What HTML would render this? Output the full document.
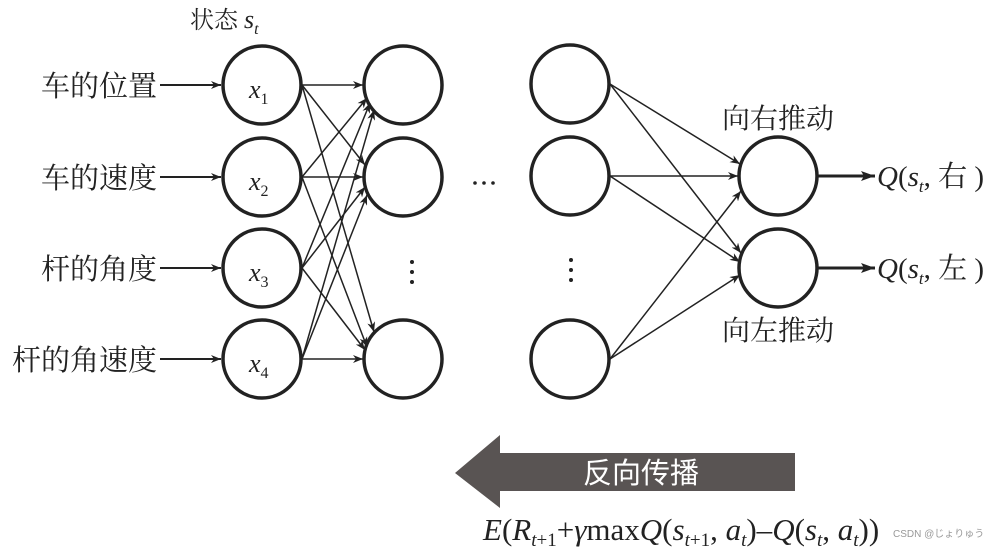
<!DOCTYPE html>
<html><head><meta charset="utf-8"><style>
html,body{margin:0;padding:0;background:#fff;}
svg{display:block;}
.cj{font-family:"Liberation Serif","Noto Serif CJK SC",serif;fill:#222;}
.m{font-family:"Liberation Serif","Noto Serif CJK SC",serif;font-style:italic;fill:#222;}
</style></head><body>
<svg width="999" height="550" viewBox="0 0 999 550" xmlns="http://www.w3.org/2000/svg">
<defs>
<marker id="a" markerWidth="10" markerHeight="8" refX="10" refY="4" orient="auto" markerUnits="userSpaceOnUse">
<path d="M0,0 L10,4 L0,8 L3,4 Z" fill="#222"/></marker>
<marker id="b" markerWidth="14" markerHeight="10" refX="14" refY="5" orient="auto" markerUnits="userSpaceOnUse">
<path d="M0,0 L14,5 L0,10 L3,5 Z" fill="#222"/></marker>
</defs>
<g class="cj" font-size="29">
<text x="157" y="96" text-anchor="end">车的位置</text>
<text x="157" y="188" text-anchor="end">车的速度</text>
<text x="157" y="279" text-anchor="end">杆的角度</text>
<text x="157" y="370" text-anchor="end">杆的角速度</text>
<text x="722" y="128" font-size="28">向右推动</text>
<text x="722" y="340" font-size="28">向左推动</text>
</g>
<text class="cj" x="190" y="28" font-size="24">状态 <tspan class="m" font-size="26">s</tspan><tspan class="m" font-size="16" dy="6">t</tspan></text>
<g stroke="#222" stroke-width="2" fill="none">
<line x1="160" y1="85" x2="221" y2="85" marker-end="url(#a)"/>
<line x1="160" y1="177" x2="221" y2="177" marker-end="url(#a)"/>
<line x1="160" y1="268" x2="221" y2="268" marker-end="url(#a)"/>
<line x1="160" y1="359" x2="221" y2="359" marker-end="url(#a)"/>
</g>
<g stroke="#222" stroke-width="1.5" fill="none" marker-end="url(#a)">
<line x1="302" y1="85" x2="363" y2="85"/>
<line x1="302" y1="85" x2="365" y2="165"/>
<line x1="302" y1="85" x2="374" y2="332"/>
<line x1="302" y1="177" x2="367" y2="98"/>
<line x1="302" y1="177" x2="363" y2="177"/>
<line x1="302" y1="177" x2="367" y2="347"/>
<line x1="302" y1="268" x2="370" y2="103"/>
<line x1="302" y1="268" x2="365" y2="187"/>
<line x1="302" y1="268" x2="365" y2="350"/>
<line x1="302" y1="359" x2="374" y2="110"/>
<line x1="302" y1="359" x2="367" y2="195"/>
<line x1="302" y1="359" x2="363" y2="359"/>
<line x1="610" y1="84" x2="740" y2="164"/>
<line x1="610" y1="84" x2="741" y2="253"/>
<line x1="610" y1="176" x2="738" y2="176"/>
<line x1="610" y1="176" x2="740" y2="262"/>
<line x1="610" y1="359" x2="741" y2="191"/>
<line x1="610" y1="359" x2="740" y2="275"/>
</g>
<g stroke="#222" stroke-width="3.5" fill="none">
<circle cx="262" cy="85" r="39"/><circle cx="262" cy="177" r="39"/>
<circle cx="262" cy="268" r="39"/><circle cx="262" cy="359" r="39"/>
<circle cx="403" cy="85" r="39"/><circle cx="403" cy="177" r="39"/><circle cx="403" cy="359" r="39"/>
<circle cx="570" cy="84" r="39"/><circle cx="570" cy="176" r="39"/><circle cx="570" cy="359" r="39"/>
<circle cx="778" cy="176" r="39"/><circle cx="778" cy="268" r="39"/>
</g>
<g stroke="#222" stroke-width="3" fill="none" marker-end="url(#b)">
<line x1="818" y1="176" x2="875" y2="176"/>
<line x1="818" y1="268" x2="875" y2="268"/>
</g>
<g class="m" font-size="26">
<text x="249" y="98">x<tspan font-size="16" font-style="normal" dy="6">1</tspan></text>
<text x="249" y="190">x<tspan font-size="16" font-style="normal" dy="6">2</tspan></text>
<text x="249" y="281">x<tspan font-size="16" font-style="normal" dy="6">3</tspan></text>
<text x="249" y="372">x<tspan font-size="16" font-style="normal" dy="6">4</tspan></text>
<text x="877" y="186" font-size="29">Q<tspan font-style="normal">(</tspan>s<tspan font-size="17" dy="6">t</tspan><tspan font-style="normal" dy="-6">, 右 )</tspan></text>
<text x="877" y="278" font-size="29">Q<tspan font-style="normal">(</tspan>s<tspan font-size="17" dy="6">t</tspan><tspan font-style="normal" dy="-6">, 左 )</tspan></text>
</g>
<g fill="#222">
<circle cx="412" cy="262" r="2"/><circle cx="412" cy="272" r="2"/><circle cx="412" cy="282" r="2"/>
<circle cx="571" cy="260" r="2"/><circle cx="571" cy="270" r="2"/><circle cx="571" cy="280" r="2"/>
<circle cx="475" cy="183" r="1.8"/><circle cx="484" cy="183" r="1.8"/><circle cx="493" cy="183" r="1.8"/>
</g>
<polygon points="455,473 500,435 500,453 795,453 795,491 500,491 500,508" fill="#595453"/>
<text x="641" y="483" text-anchor="middle" font-size="29" fill="#fff" font-family="Liberation Sans,Noto Sans CJK SC,sans-serif">反向传播</text>
<text class="m" x="483" y="540" font-size="31">E<tspan font-style="normal">(</tspan>R<tspan font-size="19" dy="6">t</tspan><tspan font-size="19" font-style="normal">+1</tspan><tspan font-style="normal" dy="-6">+</tspan>γ<tspan font-style="normal">max</tspan>Q<tspan font-style="normal">(</tspan>s<tspan font-size="19" dy="6">t</tspan><tspan font-size="19" font-style="normal">+1</tspan><tspan font-style="normal" dy="-6">, </tspan>a<tspan font-size="19" dy="6">t</tspan><tspan font-style="normal" dy="-6">)–</tspan>Q<tspan font-style="normal">(</tspan>s<tspan font-size="19" dy="6">t</tspan><tspan font-style="normal" dy="-6">, </tspan>a<tspan font-size="19" dy="6">t</tspan><tspan font-style="normal" dy="-6">))</tspan></text>
<text x="893" y="537" font-size="10" fill="#999" font-family="Liberation Sans,Noto Sans CJK JP,sans-serif">CSDN @じょりゅう</text>
</svg>
</body></html>
